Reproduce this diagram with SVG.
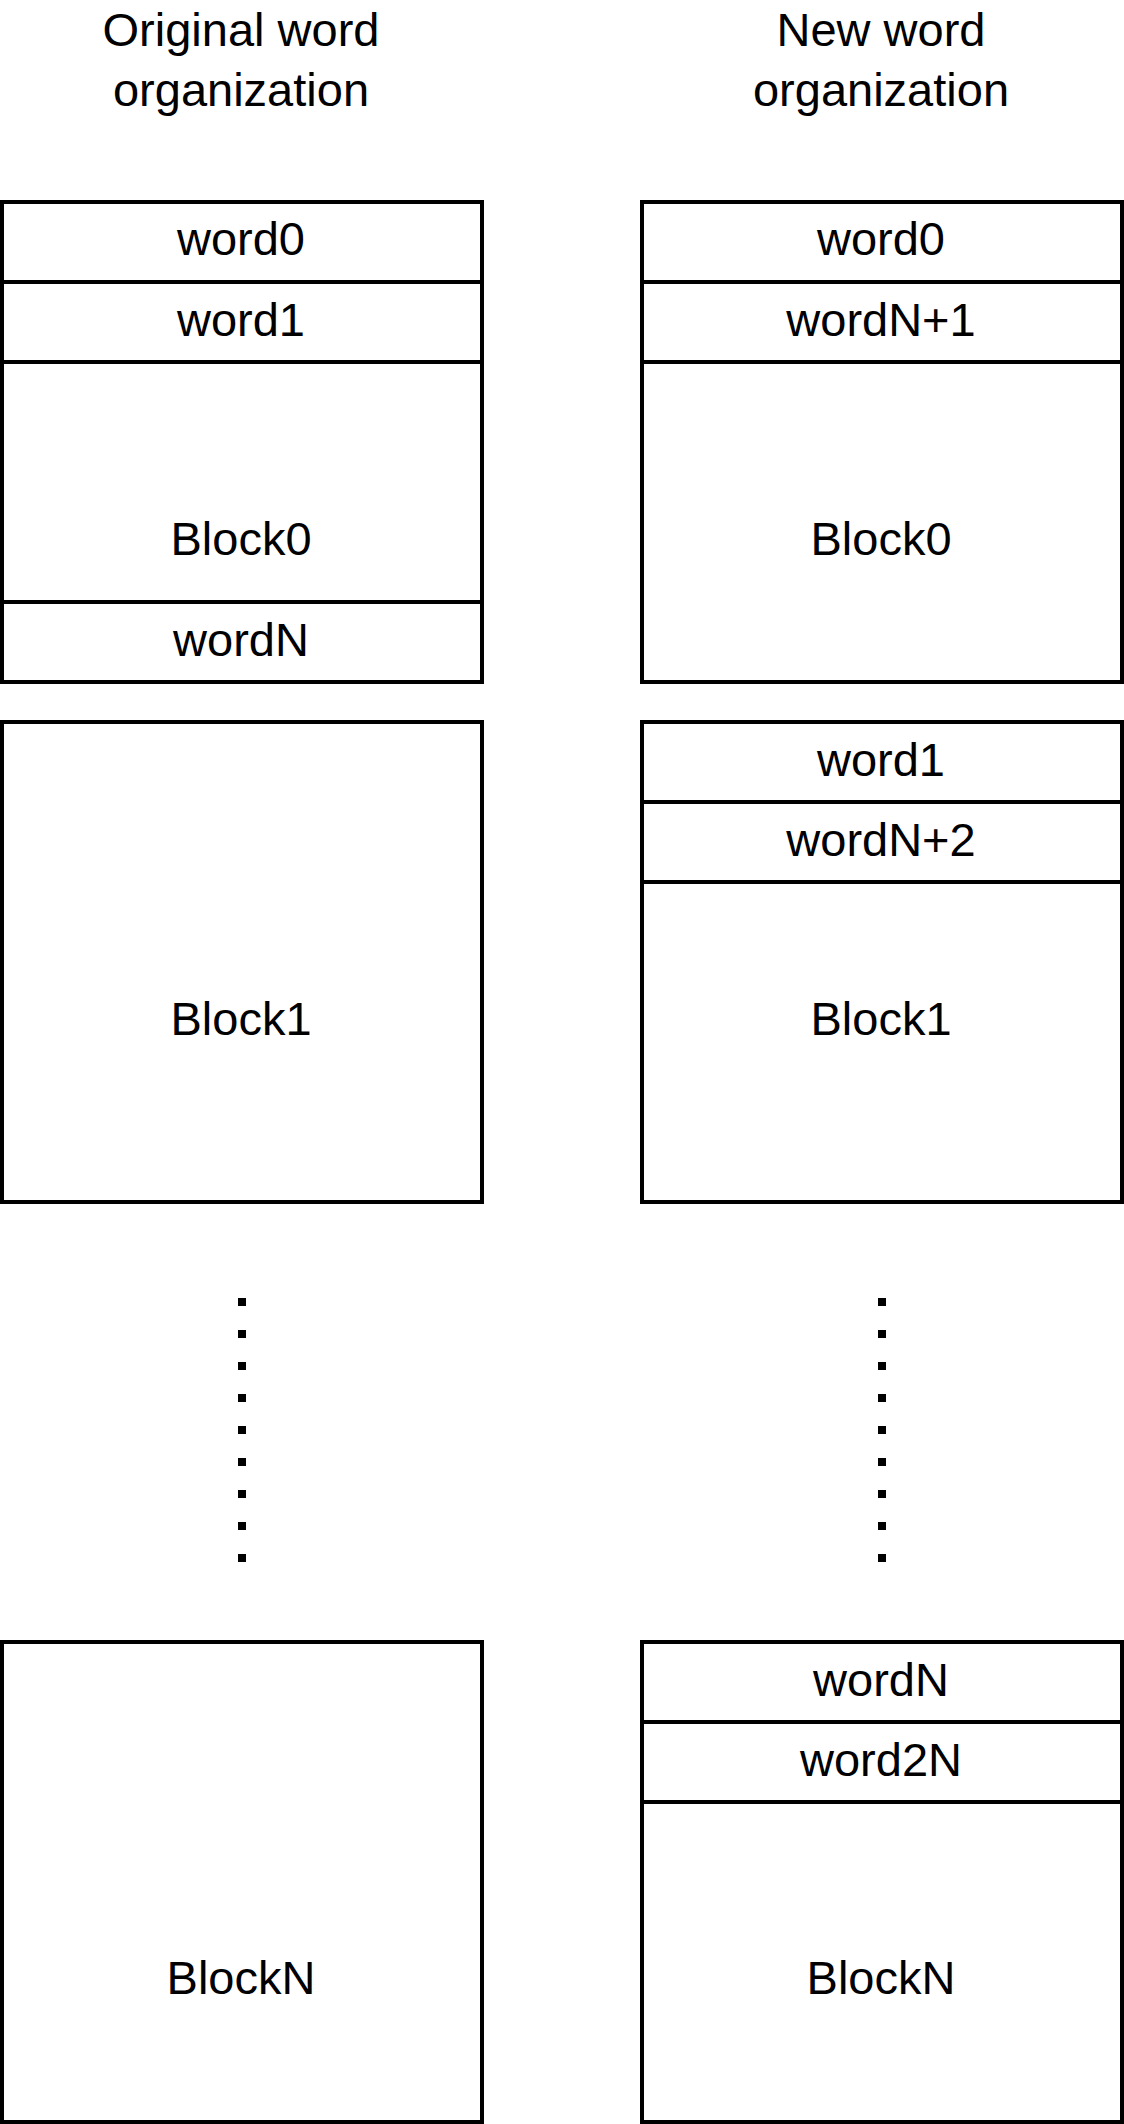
<svg xmlns="http://www.w3.org/2000/svg" width="1124" height="2124" viewBox="0 0 1124 2124">
<style>
  .cell { fill: #ffffff; stroke: #000000; stroke-width: 4; }
  .lbl { font-family: "Liberation Sans", Arial, sans-serif; font-size: 47px; fill: #000000; text-anchor: middle; }
  .dots { stroke: #000000; stroke-width: 8; stroke-dasharray: 8 24; fill: none; }
</style>
<rect x="0" y="0" width="1124" height="2124" fill="#ffffff"/>

<g id="title-original">
  <text class="lbl" x="241" y="46">Original word</text>
  <text class="lbl" x="241" y="106">organization</text>
</g>
<g id="title-new">
  <text class="lbl" x="881" y="46">New word</text>
  <text class="lbl" x="881" y="106">organization</text>
</g>

<g id="orig-block0">
  <rect class="cell" x="2" y="202" width="480" height="480"/>
  <rect class="cell" x="2" y="202" width="480" height="80"/>
  <rect class="cell" x="2" y="282" width="480" height="80"/>
  <rect class="cell" x="2" y="602" width="480" height="80"/>
  <text class="lbl" x="241" y="255">word0</text>
  <text class="lbl" x="241" y="336">word1</text>
  <text class="lbl" x="241" y="555">Block0</text>
  <text class="lbl" x="241" y="656">wordN</text>
</g>

<g id="orig-block1">
  <rect class="cell" x="2" y="722" width="480" height="480"/>
  <text class="lbl" x="241" y="1035">Block1</text>
</g>

<g id="orig-blockN">
  <rect class="cell" x="2" y="1642" width="480" height="480"/>
  <text class="lbl" x="241" y="1994">BlockN</text>
</g>

<g id="new-block0">
  <rect class="cell" x="642" y="202" width="480" height="480"/>
  <rect class="cell" x="642" y="202" width="480" height="80"/>
  <rect class="cell" x="642" y="282" width="480" height="80"/>
  <text class="lbl" x="881" y="255">word0</text>
  <text class="lbl" x="881" y="336">wordN+1</text>
  <text class="lbl" x="881" y="555">Block0</text>
</g>

<g id="new-block1">
  <rect class="cell" x="642" y="722" width="480" height="480"/>
  <rect class="cell" x="642" y="722" width="480" height="80"/>
  <rect class="cell" x="642" y="802" width="480" height="80"/>
  <text class="lbl" x="881" y="776">word1</text>
  <text class="lbl" x="881" y="856">wordN+2</text>
  <text class="lbl" x="881" y="1035">Block1</text>
</g>

<g id="new-blockN">
  <rect class="cell" x="642" y="1642" width="480" height="480"/>
  <rect class="cell" x="642" y="1642" width="480" height="80"/>
  <rect class="cell" x="642" y="1722" width="480" height="80"/>
  <text class="lbl" x="881" y="1696">wordN</text>
  <text class="lbl" x="881" y="1776">word2N</text>
  <text class="lbl" x="881" y="1994">BlockN</text>
</g>

<g id="connectors">
  <line class="dots" x1="242" y1="1298" x2="242" y2="1562"/>
  <line class="dots" x1="882" y1="1298" x2="882" y2="1562"/>
</g>
</svg>
